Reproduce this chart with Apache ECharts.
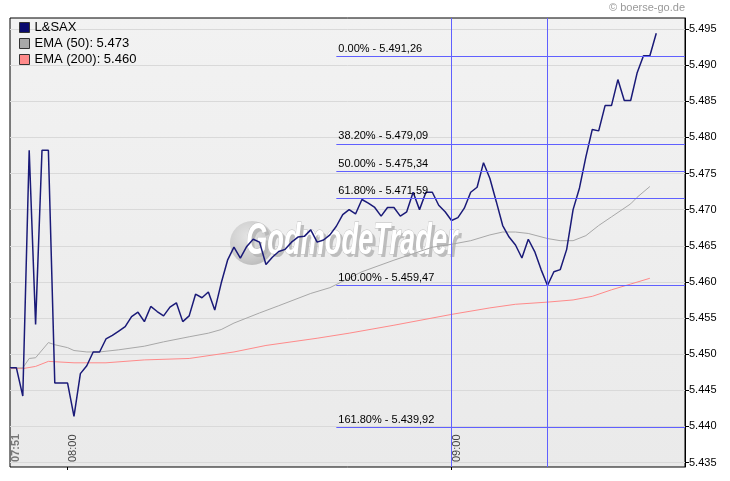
<!DOCTYPE html>
<html><head><meta charset="utf-8">
<script src="https://cdn.jsdelivr.net/npm/echarts@6/dist/echarts.min.js"></script>
<style>html,body{margin:0;padding:0;background:#fff}#c{width:730px;height:481px}</style>
</head><body><div id="c"></div>
<script>
const times = ['07:51','07:52','07:53','07:54','07:55','07:56','07:57','07:58','07:59',
'08:00','08:01','08:02','08:03','08:04','08:05','08:06','08:07','08:08','08:09',
'08:10','08:11','08:12','08:13','08:14','08:15','08:16','08:17','08:18','08:19',
'08:20','08:21','08:22','08:23','08:24','08:25','08:26','08:27','08:28','08:29',
'08:30','08:31','08:32','08:33','08:34','08:35','08:36','08:37','08:38','08:39',
'08:40','08:41','08:42','08:43','08:44','08:45','08:46','08:47','08:48','08:49',
'08:50','08:51','08:52','08:53','08:54','08:55','08:56','08:57','08:58','08:59',
'09:00','09:01','09:02','09:03','09:04','09:05','09:06','09:07','09:08','09:09',
'09:10','09:11','09:12','09:13','09:14','09:15','09:16','09:17','09:18','09:19',
'09:20','09:21','09:22','09:23','09:24','09:25','09:26','09:27','09:28','09:29',
'09:30','09:31','09:32'];
const priceValues = [5.4481,5.4481,5.4442,5.4782,5.4541,5.4782,5.4782,5.4460,5.4460,
5.4460,5.4414,5.4473,5.4484,5.4503,5.4503,5.4521,5.4526,5.4532,5.4538,
5.4552,5.4558,5.4545,5.4566,5.4559,5.4553,5.4565,5.4571,5.4545,5.4553,
5.4583,5.4578,5.4586,5.4561,5.4598,5.4630,5.4648,5.4633,5.4649,5.4659,
5.4655,5.4624,5.4634,5.4642,5.4645,5.4655,5.4662,5.4663,5.4672,5.4655,
5.4658,5.4665,5.4677,5.4693,5.4700,5.4694,5.4714,5.4709,5.4703,5.4691,
5.4703,5.4703,5.4691,5.4697,5.4724,5.4700,5.4724,5.4724,5.4706,5.4697,
5.4685,5.4689,5.4702,5.4724,5.4731,5.4765,5.4743,5.4711,5.4678,5.4662,
5.4651,5.4633,5.4659,5.4642,5.4617,5.4595,5.4614,5.4617,5.4645,5.4700,
5.4730,5.4773,5.4811,5.4809,5.4844,5.4844,5.4880,5.4851,5.4851,5.4889,
5.4913,5.4913,5.4944];
const ema50Times = ['07:51','07:53','07:54','07:55','07:57','07:58','08:00','08:01','08:03','08:05',
'08:08','08:12','08:15','08:19','08:22','08:24','08:26','08:30','08:33','08:38',
'08:41','08:46','08:51','08:54','08:57','09:00','09:03','09:06','09:08','09:10',
'09:12','09:15','09:17','09:19','09:21','09:23','09:25','09:28','09:29','09:31'];
const ema50Values = [5.4481,5.4481,5.4494,5.4495,5.4516,5.4513,5.4509,5.4505,5.4503,5.4503,
5.4506,5.4511,5.4517,5.4524,5.4529,5.4534,5.4543,5.4557,5.4567,5.4584,
5.4592,5.4614,5.4630,5.4639,5.4648,5.4652,5.4657,5.4665,5.4669,5.4669,
5.4667,5.4660,5.4657,5.4657,5.4664,5.4678,5.4690,5.4708,5.4717,5.4732];
const ema200Times = ['07:51','07:53','07:55','07:57','08:01','08:06','08:12','08:19','08:26','08:31',
'08:39','08:44','08:51','09:00','09:06','09:10','09:15','09:19','09:22','09:25','09:28','09:31'];
const ema200Values = [5.4480,5.4480,5.4483,5.4490,5.4488,5.4488,5.4492,5.4494,5.4503,5.4512,
5.4522,5.4529,5.4540,5.4555,5.4564,5.4569,5.4572,5.4575,5.4580,5.4589,5.4597,5.4605];
const seriesNames = ['L&SAX','EMA (50): 5.473','EMA (200): 5.460'];
const yTickValues = [5.435,5.440,5.445,5.450,5.455,5.460,5.465,5.470,5.475,5.480,5.485,5.490,5.495];
const xTickLabels = ['07:51','08:00','09:00'];
const fibLevels = ['0.00%','38.20%','50.00%','61.80%','100.00%','161.80%'];
const fibValues = [5.49126,5.47909,5.47534,5.47159,5.45947,5.43992];
const fibStartTime = '08:42';
const markerTimes = ['09:00','09:15'];

const FONT = 'Liberation Sans, Arial, sans-serif';
function toMin(t){const p=t.split(':');return (+p[0])*60+(+p[1]);}
function fmtMin(v){const h=Math.floor(v/60),m=Math.round(v-h*60);return String(h).padStart(2,'0')+':'+String(m).padStart(2,'0');}
function fmtDe(v){const s=(v*1000).toFixed(2);const [a,b]=s.split('.');return a.slice(0,a.length-3)+'.'+a.slice(-3)+','+b;}

const X_MIN = toMin('07:51'), X_MAX = X_MIN + 105.49;
const Y_MIN = 5.43438, Y_MAX = 5.49652;

const chart = echarts.init(document.getElementById('c'), null, {renderer:'canvas'});
const fibData = fibLevels.map((lv,i)=>[
  {coord:[toMin(fibStartTime), fibValues[i]], name: lv + ' - ' + fmtDe(fibValues[i])},
  {coord:[X_MAX, fibValues[i]]}
]);
const markerData = markerTimes.map(t=>({xAxis: toMin(t), label:{show:false}}));
const wmFont = 'italic bold 44px ' + FONT;

chart.setOption({
  animation:false,
  backgroundColor:'#ffffff',
  textStyle:{fontFamily:FONT},
  grid:{left:10, right:45, top:18, bottom:14, show:true, borderColor:'#000', borderWidth:1,
    backgroundColor:{type:'linear',x:0,y:0,x2:0,y2:1,colorStops:[{offset:0,color:'#f2f2f2'},{offset:1,color:'#eaeaea'}]}},
  legend:{orient:'vertical', left:14, top:16, itemWidth:10, itemHeight:10, itemGap:3, icon:'rect',
    data:seriesNames, selectedMode:false,
    itemStyle:{borderColor:'#333', borderWidth:1},
    textStyle:{fontSize:13, color:'#000', fontFamily:FONT}},
  graphic:[
    {type:'circle', z:1, shape:{cx:252, cy:243, r:22},
      style:{fill:{type:'radial',x:0.4,y:0.35,r:0.7,colorStops:[{offset:0,color:'#e2e2e2'},{offset:0.7,color:'#c8c8c8'},{offset:1,color:'#b5b5b5'}]}, opacity:0.9}},
    {type:'text', z:1, x:249, y:267, scaleX:0.62, scaleY:1,
      style:{text:'GodmodeTrader', fill:'#b4b4b4', font:wmFont, textVerticalAlign:'bottom', textAlign:'left', opacity:0.85}},
    {type:'text', z:1, x:246, y:264, scaleX:0.62, scaleY:1,
      style:{text:'GodmodeTrader', fill:'#ffffff', stroke:'#bdbdbd', lineWidth:1,
        font:wmFont, textVerticalAlign:'bottom', textAlign:'left'}},
    {type:'text', right:45, top:2, style:{text:'\u00A9 boerse-go.de', fill:'#9a9a9a', font:'11px ' + FONT}}
  ],
  xAxis:{type:'value', min:X_MIN, max:X_MAX,
    axisLine:{show:false},
    axisTick:{show:true, customValues:[toMin('08:00'), toMin('09:00')], length:3, lineStyle:{color:'#000'}},
    axisLabel:{show:true, inside:true, rotate:90, margin:5, verticalAlign:'top',
      customValues: xTickLabels.map(toMin), fontSize:11, color:'#444', fontFamily:FONT,
      formatter:(v)=>{const s=fmtMin(v);return s===xTickLabels[0]?'{b|'+s+'}':s;},
      rich:{b:{fontWeight:'bold', color:'#777', fontSize:11, fontFamily:FONT}}},
    splitLine:{show:false}},
  yAxis:{type:'value', position:'right', min:Y_MIN, max:Y_MAX,
    axisLine:{show:true, lineStyle:{color:'#000'}},
    axisTick:{show:true, customValues:yTickValues, length:4, lineStyle:{color:'#000'}},
    axisLabel:{customValues:yTickValues, formatter:(v)=>v.toFixed(3), color:'#000', fontSize:11, margin:4, fontFamily:FONT},
    splitLine:{show:true, lineStyle:{color:'#d9d9d9', width:1}}},
  series:[
    {name:seriesNames[2], type:'line', symbol:'none', z:3,
      data: ema200Times.map((t,i)=>[toMin(t), ema200Values[i]]),
      lineStyle:{color:'#ff8a8a', width:1}, itemStyle:{color:'#ff8a8a'}},
    {name:seriesNames[1], type:'line', symbol:'none', z:3,
      data: ema50Times.map((t,i)=>[toMin(t), ema50Values[i]]),
      lineStyle:{color:'#a8a8a8', width:1}, itemStyle:{color:'#a8a8a8'}},
    {name:seriesNames[0], type:'line', symbol:'none', z:4,
      data: times.map((t,i)=>[toMin(t), priceValues[i]]),
      lineStyle:{color:'#1a1a78', width:1.5}, itemStyle:{color:'#0a0a6e'},
      markLine:{silent:true, symbol:'none', animation:false,
        lineStyle:{color:'#6060ff', width:1, type:'solid'},
        label:{show:true, position:'insideStartTop', distance:[2,2], color:'#000', fontSize:11, fontFamily:FONT,
          formatter:(p)=>p.name},
        data: fibData.concat(markerData)}}
  ]
});
</script></body></html>
